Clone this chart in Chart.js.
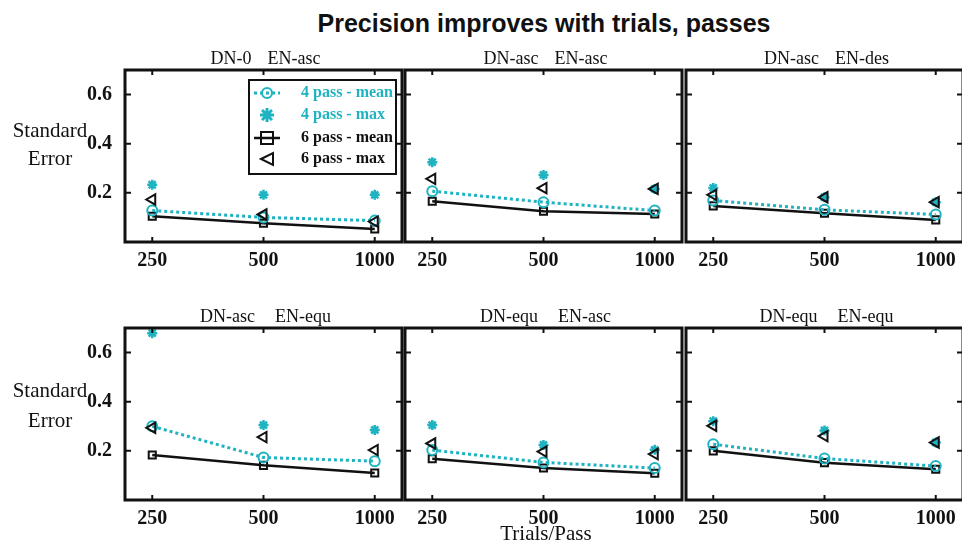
<!DOCTYPE html>
<html>
<head>
<meta charset="utf-8">
<script src="https://cdn.jsdelivr.net/npm/chart.js@4.4.1/dist/chart.umd.min.js"></script>
<style>
  html, body { margin: 0; padding: 0; background: #fff; overflow: hidden; }
  body { width: 962px; height: 542px; position: relative; }
  .txt { position: absolute; white-space: pre; color: #111; font-family: "Liberation Serif", serif; }
  #title { font-family: "Liberation Sans", Arial, sans-serif; font-weight: bold; font-size: 25px; left: 544px; top: 9px; transform: translateX(-50%); }
  canvas { position: absolute; }
</style>
</head>
<body>
<div id="title" class="txt">Precision improves with trials, passes</div>
<script>
const categories = [250, 500, 1000];
const yTicks = [0.2, 0.4, 0.6];
const panelTitles = [
  ["DN-0", "EN-asc"], ["DN-asc", "EN-asc"], ["DN-asc", "EN-des"],
  ["DN-asc", "EN-equ"], ["DN-equ", "EN-asc"], ["DN-equ", "EN-equ"]
];
const seriesNames = ["4 pass - mean", "4 pass - max", "6 pass - mean", "6 pass - max"];

const mean4 = [
  [0.128, 0.100, 0.087], [0.207, 0.162, 0.128], [0.169, 0.131, 0.112],
  [0.300, 0.173, 0.158], [0.203, 0.153, 0.130], [0.227, 0.169, 0.138]
];
const max4 = [
  [0.233, 0.192, 0.192], [0.325, 0.273, 0.216], [0.220, 0.182, 0.162],
  [0.679, 0.305, 0.285], [0.305, 0.224, 0.204], [0.321, 0.283, 0.234]
];
const mean6 = [
  [0.105, 0.076, 0.053], [0.166, 0.125, 0.114], [0.147, 0.117, 0.090],
  [0.183, 0.141, 0.110], [0.168, 0.130, 0.109], [0.200, 0.152, 0.125]
];
const max6 = [
  [0.173, 0.112, 0.083], [0.257, 0.219, 0.216], [0.192, 0.182, 0.162],
  [0.294, 0.256, 0.203], [0.230, 0.197, 0.187], [0.302, 0.260, 0.234]
];

const CYAN = "#1fb3c1";
const SERIF = "'Liberation Serif', 'Times New Roman', serif";

// plot-area geometry (page pixels)
const colLeft = [125, 405, 686];
const rowTop = [68, 326];
const areaW = 281, areaH = 174;
const padL = 60, padR = 4, padT = 6, padB = 34;

function addText(str, x, y, css) {
  const d = document.createElement("div");
  d.className = "txt";
  d.textContent = str;
  d.style.cssText += css;
  d.style.left = x + "px";
  d.style.top = y + "px";
  document.body.appendChild(d);
  return d;
}

function toPoints(arr) {
  return arr.map((v, i) => ({ x: i, y: v }));
}

// box frame with inward ticks, MATLAB style
const boxPlugin = {
  id: "box",
  afterDraw(chart) {
    const a = chart.chartArea, ctx = chart.ctx;
    const xs = chart.scales.x, ys = chart.scales.y;
    ctx.save();
    ctx.strokeStyle = "#111";
    ctx.lineWidth = 2;
    ctx.beginPath();
    yTicks.forEach(v => {
      const py = ys.getPixelForValue(v);
      ctx.moveTo(a.left, py); ctx.lineTo(a.left + 6, py);
      ctx.moveTo(a.right, py); ctx.lineTo(a.right - 6, py);
    });
    categories.forEach((c, i) => {
      const px = xs.getPixelForValue(i);
      ctx.moveTo(px, a.top); ctx.lineTo(px, a.top + 5);
      ctx.moveTo(px, a.bottom); ctx.lineTo(px, a.bottom - 5);
    });
    ctx.stroke();
    ctx.lineWidth = 3;
    ctx.strokeRect(a.left, a.top, a.right - a.left, a.bottom - a.top);
    ctx.restore();
  }
};

function drawSymbol(ctx, kind, x, y) {
  ctx.beginPath();
  if (kind === "circle") {
    ctx.arc(x, y, 5, 0, Math.PI * 2);
  } else if (kind === "star") {
    for (let k = 0; k < 4; k++) {
      const ang = k * Math.PI / 4;
      ctx.moveTo(x - 7 * Math.cos(ang), y - 7 * Math.sin(ang));
      ctx.lineTo(x + 7 * Math.cos(ang), y + 7 * Math.sin(ang));
    }
  } else if (kind === "rect") {
    ctx.rect(x - 6, y - 6, 12, 12);
  } else {
    ctx.moveTo(x - 6, y);
    ctx.lineTo(x + 6, y - 6);
    ctx.lineTo(x + 6, y + 6);
    ctx.closePath();
  }
  ctx.stroke();
}

const legendPlugin = {
  id: "boxLegend",
  afterDraw(chart) {
    const a = chart.chartArea, ctx = chart.ctx;
    const bx = a.left + 124, by = a.top + 10, bw = 147, bh = 94;
    ctx.save();
    ctx.fillStyle = "#fff";
    ctx.fillRect(bx, by, bw, bh);
    ctx.strokeStyle = "#111";
    ctx.lineWidth = 2;
    ctx.strokeRect(bx, by, bw, bh);
    const rows = [a.top + 23, a.top + 45, a.top + 68, a.top + 89];
    const kinds = ["circle", "star", "rect", "triangle"];
    const cols = [CYAN, CYAN, "#111", "#111"];
    const sx = a.left + 142;
    rows.forEach((ry, i) => {
      ctx.strokeStyle = cols[i];
      ctx.lineWidth = i === 0 ? 3 : 2.5;
      if (i === 0) {
        ctx.setLineDash([3, 3]);
        ctx.beginPath(); ctx.moveTo(sx - 13, ry); ctx.lineTo(sx + 13, ry); ctx.stroke();
        ctx.setLineDash([]);
      } else if (i === 2) {
        ctx.beginPath(); ctx.moveTo(sx - 13, ry); ctx.lineTo(sx + 13, ry); ctx.stroke();
      }
      ctx.lineWidth = i === 1 ? 3 : 2;
      drawSymbol(ctx, kinds[i], sx, ry);
      ctx.fillStyle = cols[i];
      ctx.font = "bold 16px " + SERIF;
      ctx.textBaseline = "middle";
      ctx.fillText(seriesNames[i], a.left + 176, ry);
    });
    ctx.restore();
  }
};

for (let p = 0; p < 6; p++) {
  const col = p % 3, row = Math.floor(p / 3);
  const left = colLeft[col], top = rowTop[row];

  const cv = document.createElement("canvas");
  cv.width = padL + areaW + padR;
  cv.height = padT + areaH + padB;
  cv.style.left = (left - padL) + "px";
  cv.style.top = (top - padT) + "px";
  document.body.appendChild(cv);

  // panel title
  const t = addText("", 0, top - 20, "font-size:18px;line-height:20px;transform:translateX(-50%);");
  t.innerHTML = "<span>" + panelTitles[p][0] + "</span><span style='margin-left:" + (row === 0 ? 16 : 20) + "px'>" + panelTitles[p][1] + "</span>";
  t.style.left = (left + areaW / 2) + "px";

  new Chart(cv.getContext("2d"), {
    type: "line",
    data: {
      datasets: [
        {
          label: seriesNames[3], data: toPoints(max6[p]), showLine: false,
          pointStyle: "triangle", pointRotation: -90, pointRadius: 6,
          borderColor: "#111", backgroundColor: "rgba(0,0,0,0)", pointBorderWidth: 2
        },
        {
          label: seriesNames[1], data: toPoints(max4[p]), showLine: false,
          pointStyle: "star", pointRadius: 5, borderColor: CYAN,
          backgroundColor: CYAN, pointBorderWidth: 2.5
        },
        {
          label: seriesNames[0], data: toPoints(mean4[p]),
          borderColor: CYAN, borderWidth: 3, borderDash: [3, 3],
          pointStyle: "circle", pointRadius: 5, pointBorderWidth: 2,
          backgroundColor: "rgba(0,0,0,0)", tension: 0
        },
        {
          label: seriesNames[2], data: toPoints(mean6[p]),
          borderColor: "#111", borderWidth: 2.5,
          pointStyle: "rect", pointRadius: 5, pointBorderWidth: 2,
          backgroundColor: "rgba(0,0,0,0)", tension: 0
        }
      ]
    },
    options: {
      responsive: false,
      animation: false,
      events: [],
      layout: { padding: { left: 0, right: padR, top: padT, bottom: 0 } },
      plugins: { legend: { display: false }, tooltip: { enabled: false }, title: { display: false } },
      scales: {
        x: {
          type: "linear", min: -0.245, max: 2.245,
          grid: { display: false, drawTicks: false },
          border: { display: false },
          afterBuildTicks: s => { s.ticks = categories.map((c, i) => ({ value: i })); },
          afterFit: s => { s.height = padB; s.paddingLeft = 0; s.paddingRight = 0; },
          ticks: {
            autoSkip: false, maxRotation: 0, padding: 7, color: "#111",
            font: { family: SERIF, size: 20, weight: "bold" },
            callback: v => categories[v]
          }
        },
        y: {
          min: 0, max: 0.7,
          grid: { display: false, drawTicks: false },
          border: { display: false },
          afterBuildTicks: s => { s.ticks = yTicks.map(v => ({ value: v })); },
          afterFit: s => { s.width = padL; s.paddingTop = 0; s.paddingBottom = 0; },
          ticks: {
            display: col === 0, padding: 13, color: "#111",
            font: { family: SERIF, size: 20, weight: "bold" },
            callback: v => v.toFixed(1)
          }
        }
      }
    },
    plugins: p === 0 ? [boxPlugin, legendPlugin] : [boxPlugin]
  });
}

// y-axis labels
[[130, 158], [390, 420]].forEach(ys => {
  addText("Standard", 50, ys[0] - 13, "font-size:21px;line-height:26px;transform:translateX(-50%);");
  addText("Error", 50, ys[1] - 13, "font-size:21px;line-height:26px;transform:translateX(-50%);");
});
addText("Trials/Pass", 546, 520, "font-size:21px;line-height:26px;transform:translateX(-50%);");
</script>
</body>
</html>
